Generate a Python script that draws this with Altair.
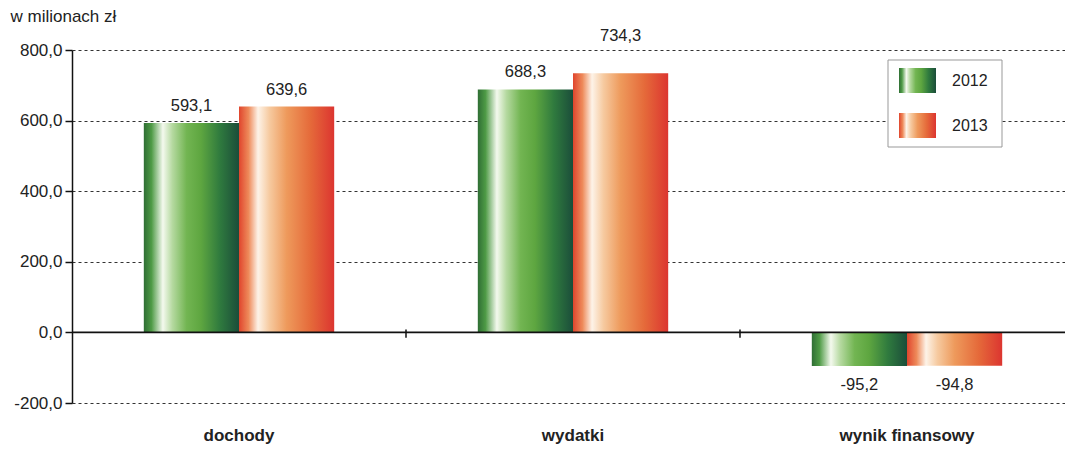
import altair as alt
import pandas as pd

categories = ["dochody", "wydatki", "wynik finansowy"]
years = ["2012", "2013"]
values_2012 = [593.1, 688.3, -95.2]
values_2013 = [639.6, 734.3, -94.8]
y_ticks = [-200, 0, 200, 400, 600, 800]
y_title = "w milionach zł"

rows = []
for c, a, b in zip(categories, values_2012, values_2013):
    rows.append({"cat": c, "year": years[0], "value": a})
    rows.append({"cat": c, "year": years[1], "value": b})
df = pd.DataFrame(rows)

GREEN = {
    "gradient": "linear", "x1": 0, "y1": 0, "x2": 1, "y2": 0,
    "stops": [
        {"offset": 0.0, "color": "#2f6e34"},
        {"offset": 0.08, "color": "#4e9a45"},
        {"offset": 0.2, "color": "#f4f9ee"},
        {"offset": 0.3, "color": "#b5d9a0"},
        {"offset": 0.45, "color": "#72b552"},
        {"offset": 0.6, "color": "#5ea640"},
        {"offset": 0.8, "color": "#2f7a3e"},
        {"offset": 1.0, "color": "#1b4d3a"},
    ],
}
ORANGE = {
    "gradient": "linear", "x1": 0, "y1": 0, "x2": 1, "y2": 0,
    "stops": [
        {"offset": 0.0, "color": "#e0452d"},
        {"offset": 0.1, "color": "#ee8a5a"},
        {"offset": 0.2, "color": "#fdf3e8"},
        {"offset": 0.32, "color": "#f6caa0"},
        {"offset": 0.5, "color": "#ee9a5c"},
        {"offset": 0.75, "color": "#e56a3a"},
        {"offset": 1.0, "color": "#dc3530"},
    ],
}

FONT = "Liberation Sans"
TXT = "#222222"
FMT = "replace(replace(format({v}, '.1f'), '.', ','), '\u2212', '-')"

W = 993
H = 353
X_RANGE = 1002
P_IN = 0.43
P_OUT = P_IN / 2
x_scale = alt.Scale(domain=categories, paddingInner=P_IN, paddingOuter=P_OUT, range=[0, X_RANGE])
y_scale = alt.Scale(domain=[-200, 800], nice=False)
xo_scale = alt.Scale(domain=years, paddingInner=0, paddingOuter=0)

x_axis = alt.Axis(title=None, domain=False, ticks=False, labelAngle=0,
                  labelFontWeight="bold", labelFontSize=17, labelPadding=37,
                  labelBaseline="alphabetic",
                  labelColor=TXT, labelFont=FONT)
y_axis = alt.Axis(
    values=y_ticks,
    labelExpr=FMT.format(v="datum.value"),
    grid=True, gridDash=[3, 3], gridColor="#333333", gridWidth=1.2,
    domain=True, domainColor="#111111", domainWidth=1.5,
    ticks=True, tickColor="#111111", tickSize=7, tickWidth=1.5,
    labelFontSize=17, labelColor=TXT, labelPadding=3, labelFont=FONT,
    title=y_title, titleAngle=0, titleAlign="left", titleBaseline="middle",
    titleX=-62, titleY=-34, titleFontSize=17, titleFontWeight="normal",
    titleColor=TXT, titleFont=FONT,
)


def X(**kw):
    return alt.X("cat:N", scale=x_scale, sort=categories, axis=x_axis, **kw)


def Y(field):
    return alt.Y(field, scale=y_scale, axis=y_axis)


xo = alt.XOffset("year:N", scale=xo_scale, sort=years)

base = alt.Chart(df)

bars12 = base.transform_filter(f"datum.year == '{years[0]}'").mark_bar(fill=GREEN).encode(
    x=X(), xOffset=xo, y=Y("value:Q")
)
bars13 = base.transform_filter(f"datum.year == '{years[1]}'").mark_bar(fill=ORANGE).encode(
    x=X(), xOffset=xo, y=Y("value:Q")
)

labels = base.transform_calculate(
    lab=FMT.format(v="datum.value"),
    pos0="datum.value >= 0 ? datum.value + 48 : datum.value - 55",
).transform_calculate(
    labpos="(datum.pos0 > 770 && datum.pos0 <= 800) ? 841 : datum.pos0"
).mark_text(fontSize=16.5, font=FONT, color=TXT, baseline="middle").encode(
    x=X(), xOffset=xo, y=Y("labpos:Q"), text="lab:N",
)

zero = alt.Chart(pd.DataFrame({"value": [0]})).mark_rule(color="#111111", strokeWidth=1.6).encode(
    y=Y("value:Q")
)

step = X_RANGE / len(categories)
tick_cats = categories[:-1]
cat_ticks = alt.Chart(pd.DataFrame({"cat": tick_cats, "value": [8] * len(tick_cats),
                                    "value2": [-15] * len(tick_cats)})).mark_rule(
    color="#111111", strokeWidth=1.5, xOffset=P_OUT * step
).encode(
    x=X(bandPosition=1),
    y=Y("value:Q"),
    y2="value2:Q",
)

one = alt.Chart(pd.DataFrame({"k": [0]}))
legend_box = one.mark_rect(fill="white", stroke="#999999", strokeWidth=1).encode(
    x=alt.value(816), x2=alt.value(930), y=alt.value(10), y2=alt.value(97)
)
sw12 = one.mark_rect(fill=GREEN).encode(
    x=alt.value(827), x2=alt.value(864), y=alt.value(18), y2=alt.value(43)
)
sw13 = one.mark_rect(fill=ORANGE).encode(
    x=alt.value(827), x2=alt.value(864), y=alt.value(63), y2=alt.value(88)
)
lt12 = one.mark_text(align="left", baseline="middle", fontSize=16, font=FONT, color=TXT).encode(
    x=alt.value(880), y=alt.value(31), text=alt.value(years[0])
)
lt13 = one.mark_text(align="left", baseline="middle", fontSize=16, font=FONT, color=TXT).encode(
    x=alt.value(880), y=alt.value(76), text=alt.value(years[1])
)

chart = alt.layer(
    bars12, bars13, zero, cat_ticks, labels, legend_box, sw12, sw13, lt12, lt13
).properties(
    width=W, height=H, autosize="none",
    padding={"left": 64, "top": 42, "right": 0, "bottom": 41},
).configure(font=FONT).configure_view(stroke=None)

chart.save("out.html", embed_options={"renderer": "svg", "actions": False})
